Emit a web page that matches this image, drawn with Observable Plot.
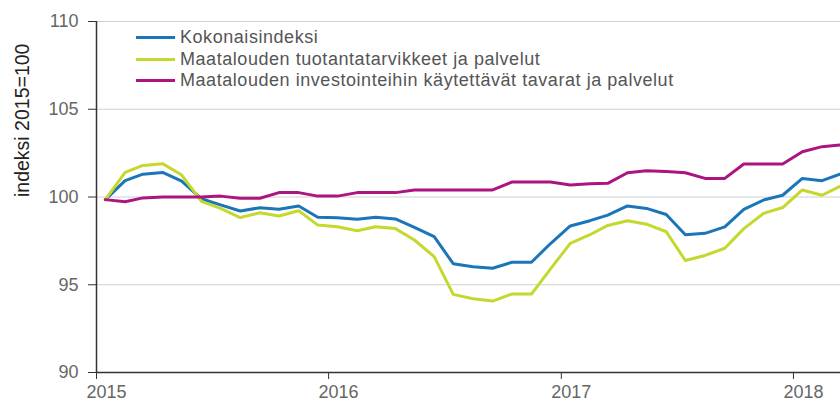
<!DOCTYPE html>
<html><head><meta charset="utf-8">
<script src="https://cdn.jsdelivr.net/npm/d3@7"></script>
<script src="https://cdn.jsdelivr.net/npm/@observablehq/plot@0.6"></script>
<style>
body{margin:0;background:#fff;font-family:"Liberation Sans",Arial,sans-serif;}
#wrap{position:relative;width:840px;height:407px;overflow:hidden;}
#legend{position:absolute;left:136px;top:27px;font-size:18px;color:#555;line-height:21.5px;letter-spacing:0.55px;}
#legend .item{display:flex;align-items:center;white-space:nowrap;}
#legend .sw{display:inline-block;width:39px;height:3px;margin-right:5px;}
</style></head><body>
<div id="wrap"><div id="chart"></div><div id="legend"></div></div>
<script>
const months = [
 "2015-01","2015-02","2015-03","2015-04","2015-05","2015-06","2015-07","2015-08","2015-09","2015-10","2015-11","2015-12",
 "2016-01","2016-02","2016-03","2016-04","2016-05","2016-06","2016-07","2016-08","2016-09","2016-10","2016-11","2016-12",
 "2017-01","2017-02","2017-03","2017-04","2017-05","2017-06","2017-07","2017-08","2017-09","2017-10","2017-11","2017-12",
 "2018-01","2018-02","2018-03"];
const kokonaisindeksi = [
 99.85,100.93,101.3,101.4,100.9,99.9,99.55,99.2,99.39,99.3,99.49,98.85,
 98.82,98.73,98.84,98.75,98.27,97.74,96.2,96.03,95.94,96.28,96.28,97.35,
 98.35,98.65,98.97,99.49,99.35,99.0,97.85,97.93,98.3,99.3,99.83,100.1,
 101.06,100.93,101.3];
const tuotantatarvikkeet = [
 99.85,101.4,101.8,101.9,101.25,99.75,99.35,98.83,99.1,98.92,99.22,98.4,
 98.3,98.08,98.3,98.2,97.55,96.6,94.45,94.2,94.07,94.47,94.47,95.9,
 97.36,97.85,98.38,98.65,98.45,98.02,96.38,96.67,97.08,98.2,99.07,99.4,
 100.4,100.1,100.6];
const investoinnit = [
 99.85,99.73,99.95,100.0,100.0,100.0,100.05,99.93,99.93,100.25,100.25,100.05,
 100.05,100.25,100.25,100.25,100.4,100.4,100.4,100.4,100.4,100.85,100.85,100.85,
 100.68,100.75,100.78,101.38,101.5,101.45,101.38,101.06,101.06,101.88,101.88,101.88,
 102.58,102.87,102.96];
const seriesNames = [
 "Kokonaisindeksi",
 "Maatalouden tuotantatarvikkeet ja palvelut",
 "Maatalouden investointeihin käytettävät tavarat ja palvelut"];
const seriesColors = ["#1a76b8","#c4d82e","#ad1480"];
const yTicks = [90,95,100,105,110];
const yearTicks = ["2015","2016","2017","2018"];
const yTitle = "indeksi 2015=100";

const seriesValues = [kokonaisindeksi, tuotantatarvikkeet, investoinnit];
const data = seriesNames.flatMap((name, s) =>
  months.map((m, i) => ({date: new Date(m + "-15"), value: seriesValues[s][i], series: name})));
const yearDates = yearTicks.map(y => new Date(y + "-01-01"));

const chart = Plot.plot({
  width: 840, height: 407,
  marginLeft: 96, marginRight: 0, marginTop: 21, marginBottom: 35,
  style: {fontFamily: "'Liberation Sans', Arial, sans-serif", fontSize: "18px", color: "#666", background: "#fff"},
  x: {type: "utc", domain: [new Date("2015-01-01"), new Date("2018-03-16")]},
  y: {domain: [90, 110]},
  color: {domain: seriesNames, range: seriesColors},
  marks: [
    Plot.gridY(yTicks, {stroke: "#d0d0d0", strokeOpacity: 1, strokeWidth: 1}),
    Plot.lineY(data, {x: "date", y: "value", stroke: "series", strokeWidth: 3, clip: true, curve: "linear"}),
    Plot.ruleY([90], {stroke: "#333", strokeWidth: 1.5}),
    Plot.ruleX([yearDates[0]], {stroke: "#333", strokeWidth: 1.5}),
    Plot.axisY(yTicks, {tickSize: 8, tickPadding: 10, stroke: "#333", fill: "#666", label: null}),
    Plot.axisX(yearDates, {tickSize: 7, text: null, stroke: "#333", label: null}),
    Plot.axisX(yearDates, {tickSize: 0, tickPadding: 13, dx: 10, fill: "#666", label: null,
      tickFormat: d => yearTicks[yearDates.findIndex(e => +e === +d)]}),
    Plot.text([yTitle], {text: d => d, frameAnchor: "left", dx: -74, rotate: -90, fill: "#222", fontSize: 19.5})
  ]
});
document.getElementById("chart").appendChild(chart);

const legend = document.getElementById("legend");
seriesNames.forEach((name, i) => {
  const row = document.createElement("div");
  row.className = "item";
  const sw = document.createElement("span");
  sw.className = "sw";
  sw.style.background = seriesColors[i];
  const t = document.createElement("span");
  t.textContent = name;
  row.appendChild(sw); row.appendChild(t);
  legend.appendChild(row);
});
</script>
</body></html>
